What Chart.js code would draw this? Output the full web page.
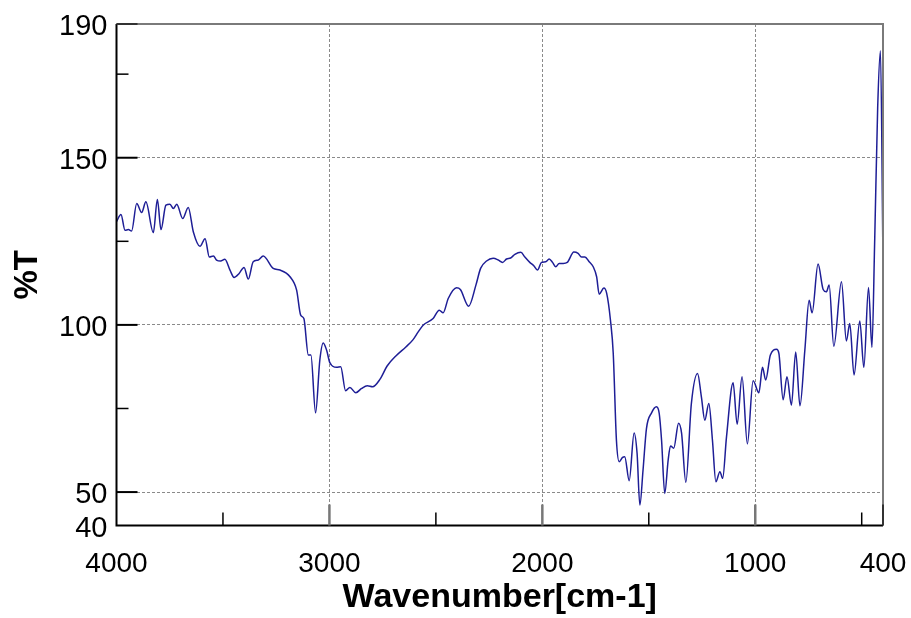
<!DOCTYPE html>
<html>
<head>
<meta charset="utf-8">
<script src="https://cdn.jsdelivr.net/npm/chart.js@4/dist/chart.umd.min.js"></script>
<style>
html,body{margin:0;padding:0;background:#fff;}
canvas{display:block;}
</style>
</head>
<body>
<canvas id="c" width="911" height="618"></canvas>
<script>
// Wavenumber (cm-1) and %T values
const wavenumbers = [4000,3979,3960,3944,3929,3905,3882,3862,3827,3808,3791,3768,3749,3733,3717,3689,3663,3639,3608,3584,3564,3545,3530,3511,3491,3467,3448,3424,3401,3381,3358,3334,3311,3264,3232,3185,3154,3135,3120,3099,3087,3065,3045,3029,3013,2998,2966,2947,2924,2904,2876,2849,2822,2797,2763,2729,2688,2641,2607,2583,2560,2513,2484,2466,2442,2403,2385,2346,2312,2290,2262,2231,2207,2187,2168,2149,2129,2101,2082,2059,2040,2023,2004,1984,1968,1952,1937,1921,1902,1883,1852,1832,1816,1800,1780,1761,1745,1733,1711,1698,1680,1667,1652,1639,1623,1613,1592,1569,1555,1542,1527,1511,1487,1464,1451,1440,1425,1409,1398,1383,1360,1346,1326,1300,1271,1253,1237,1218,1201,1185,1166,1153,1135,1104,1085,1062,1037,1010,983,966,951,929,900,889,869,851,830,810,790,767,747,733,705,681,666,653,631,595,572,556,536,509,490,468,452,439,425,412,400];
const transmittance = [130.9,133.0,128.3,128.5,128.1,136.3,133.6,136.8,127.6,137.5,128.5,135.8,136.1,134.8,136.1,131.8,135.1,127.8,123.5,125.8,120.3,120.6,119.4,119.1,119.6,116.4,114.2,115.4,117.2,113.7,118.9,119.4,120.6,116.9,116.4,114.4,110.4,102.9,101.9,91.0,91.0,73.7,89.5,94.6,92.4,88.7,87.3,87.5,80.3,81.3,79.7,81.0,81.8,81.5,83.7,87.7,90.7,93.4,95.6,97.9,99.9,101.9,104.4,103.6,107.9,111.1,110.6,105.6,111.9,116.9,119.1,119.9,119.4,118.7,119.7,120.0,121.1,121.7,120.3,118.7,117.7,116.4,118.7,118.9,119.7,118.7,117.4,118.4,118.4,118.7,121.8,121.4,120.3,120.3,118.9,117.4,114.4,109.2,111.0,109.5,101.4,91.5,65.5,59.1,60.4,60.6,53.4,67.7,61.6,46.1,56.6,69.0,73.7,75.5,73.5,65.5,49.6,59.6,63.8,63.1,70.6,67.6,52.9,76.5,85.5,78.5,71.5,76.5,65.5,53.1,56.1,54.1,66.5,82.7,70.3,84.5,64.4,83.3,79.7,87.3,83.5,91.0,92.7,91.5,77.6,84.5,76.0,91.9,75.8,92.5,107.4,103.6,118.2,110.6,109.9,111.9,93.6,112.9,95.2,100.4,85.0,101.2,87.3,111.2,93.3,125.3,165,182,119];

const xTickValues = [4000,3000,2000,1000,400];
const xGridValues = [3000,2000,1000];
const xMinorTicks = [3500,2500,1500,500];
const yTickValues = [190,150,100,50,40];
const yGridValues = [150,100,50];
const yMinorTicks = [175,125,75];
const xTitle = 'Wavenumber[cm-1]';
const yTitle = '%T';

const points = wavenumbers.map((w,i)=>({x:w, y:transmittance[i]}));

const frame = {
  id:'frame',
  afterDraw(chart){
    const {ctx, chartArea:a} = chart;
    const xs = chart.scales.x, ys = chart.scales.y;
    ctx.save();
    ctx.lineCap = 'butt';
    ctx.strokeStyle = '#7a7a7a'; ctx.lineWidth = 2;
    ctx.beginPath(); ctx.moveTo(a.left, a.top); ctx.lineTo(a.right, a.top); ctx.lineTo(a.right, a.bottom); ctx.stroke();
    ctx.strokeStyle = '#000'; ctx.lineWidth = 2;
    ctx.beginPath(); ctx.moveTo(a.left, a.top); ctx.lineTo(a.left, a.bottom); ctx.lineTo(a.right, a.bottom); ctx.stroke();
    [190,150,100,50].forEach(v=>{
      const y = ys.getPixelForValue(v);
      ctx.strokeStyle = v===190 ? '#333' : '#000'; ctx.lineWidth = 2;
      ctx.beginPath(); ctx.moveTo(a.left, y); ctx.lineTo(a.left+21, y); ctx.stroke();
    });
    yMinorTicks.forEach(v=>{
      const y = ys.getPixelForValue(v);
      ctx.strokeStyle = '#000'; ctx.lineWidth = 1.5;
      ctx.beginPath(); ctx.moveTo(a.left, y); ctx.lineTo(a.left+12, y); ctx.stroke();
    });
    xGridValues.forEach(v=>{
      const x = xs.getPixelForValue(v);
      ctx.strokeStyle = '#777'; ctx.lineWidth = 2.5;
      ctx.beginPath(); ctx.moveTo(x, a.bottom); ctx.lineTo(x, a.bottom-21); ctx.stroke();
    });
    xMinorTicks.forEach(v=>{
      const x = xs.getPixelForValue(v);
      ctx.strokeStyle = '#000'; ctx.lineWidth = 1.5;
      ctx.beginPath(); ctx.moveTo(x, a.bottom); ctx.lineTo(x, a.bottom-13); ctx.stroke();
    });
    ctx.strokeStyle = '#333'; ctx.lineWidth = 2;
    ctx.beginPath(); ctx.moveTo(a.right, a.bottom); ctx.lineTo(a.right, a.bottom-21); ctx.stroke();
    ctx.restore();
  }
};

new Chart(document.getElementById('c'), {
  type:'line',
  data:{datasets:[{
    data:points,
    borderColor:'#1e1e96',
    borderWidth:1.5,
    pointRadius:0,
    fill:false,
    cubicInterpolationMode:'monotone'
  }]},
  options:{
    responsive:false,
    animation:false,
    devicePixelRatio:1,
    layout:{padding:{left:0,top:24,right:28,bottom:0}},
    plugins:{legend:{display:false},tooltip:{enabled:false}},
    scales:{
      x:{
        type:'linear', reverse:true, min:400, max:4000,
        afterBuildTicks(s){ s.ticks = xTickValues.map(v=>({value:v})); },
        afterFit(s){ s.height = 92.5; s.paddingLeft = 0; s.paddingRight = 0; },
        grid:{drawTicks:false, lineWidth:1,
          color:(c)=> (c.tick && xGridValues.includes(c.tick.value)) ? '#8a8a8a' : 'rgba(0,0,0,0)'},
        border:{display:false, dash:[3,2]},
        ticks:{color:'#000', padding:22, maxRotation:0, autoSkip:false,
          font:{family:'"Liberation Sans", Arial, sans-serif', size:28},
          callback:(v)=>String(v)},
        title:{display:true, text:xTitle, color:'#000', padding:{top:0,bottom:0},
          font:{family:'"Liberation Sans", Arial, sans-serif', size:34, weight:'bold', lineHeight:1.2}}
      },
      y:{
        type:'linear', min:40, max:190,
        afterBuildTicks(s){ s.ticks = yTickValues.map(v=>({value:v})); },
        afterFit(s){ s.width = 116.5; s.paddingTop = 0; s.paddingBottom = 0; },
        grid:{drawTicks:false, lineWidth:1,
          color:(c)=> (c.tick && yGridValues.includes(c.tick.value)) ? '#8a8a8a' : 'rgba(0,0,0,0)'},
        border:{display:false, dash:[3,2]},
        ticks:{color:'#000', padding:9, autoSkip:false, labelOffset:3,
          font:{family:'"Liberation Sans", Arial, sans-serif', size:29},
          callback:(v)=>String(v)},
        title:{display:true, text:yTitle, color:'#000', padding:{top:8,bottom:0},
          font:{family:'"Liberation Sans", Arial, sans-serif', size:33, weight:'bold', lineHeight:1.2}}
      }
    }
  },
  plugins:[frame]
});
</script>
</body>
</html>
